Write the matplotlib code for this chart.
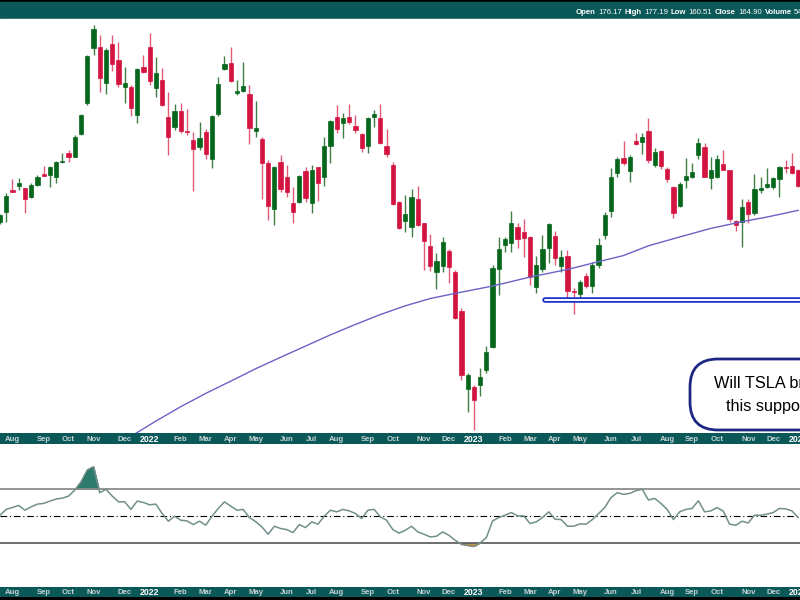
import numpy as np
import pandas as pd
import matplotlib
matplotlib.use('Agg')
import matplotlib.pyplot as plt
from matplotlib.patches import FancyBboxPatch, Rectangle
from matplotlib.transforms import IdentityTransform

plt.rcParams['font.family'] = ['Liberation Sans', 'DejaVu Sans']

# weekly bars, Jul 2021 - Jan 2024 (split adjusted)
weeks = pd.date_range('2021-07-19', periods=129, freq='W-MON')

opens = [209.4, 216.8, 233.9, 237.2, 235.6, 228.3, 238.0, 247.3, 246.4, 244.7,
         257.8, 266.0, 262.3, 284.1, 316.3, 382.7, 384.1, 339.0, 388.1, 367.1,
         334.3, 334.3, 303.4, 358.3, 384.1, 333.5, 342.6, 301.3, 291.0, 307.6,
         287.0, 278.2, 271.6, 286.0, 260.5, 304.5, 355.9, 363.3, 327.4, 329.7,
         326.3, 287.0, 279.2, 256.9, 219.0, 257.8, 244.7, 223.6, 224.4, 249.9,
         223.6, 253.4, 244.7, 272.5, 301.3, 295.1, 301.3, 292.1, 284.1, 272.5,
         301.3, 300.3, 272.5, 255.1, 224.4, 210.1, 205.8, 226.8, 208.6, 192.7,
         176.1, 179.8, 189.4, 176.1, 153.8, 117.4, 118.2, 119.0, 125.3, 135.8,
         177.9, 193.3, 194.6, 205.8, 202.2, 198.8, 167.1, 177.9, 191.3, 199.5,
         179.8, 186.1, 164.8, 163.1, 173.6, 167.7, 180.4, 200.2, 217.5, 248.1,
         261.4, 249.9, 277.3, 276.3, 287.0, 255.1, 267.8, 251.6, 236.4, 221.3,
         242.2, 244.7, 264.1, 271.6, 243.9, 244.7, 256.0, 250.7, 210.1, 209.4,
         224.4, 216.0, 233.9, 236.4, 236.4, 243.0, 253.4, 254.2, 250.7]
highs = [215.3, 231.5, 243.0, 243.9, 235.8, 239.7, 246.4, 254.2, 254.2, 258.7,
         266.0, 268.7, 283.1, 304.5, 373.6, 414.5, 400.4, 382.7, 400.4, 390.8,
         358.3, 336.7, 357.1, 373.6, 403.2, 371.0, 357.1, 328.6, 315.2, 316.3,
         309.8, 286.0, 296.1, 289.0, 303.4, 346.1, 372.3, 384.1, 342.6, 364.6,
         336.7, 318.5, 281.1, 259.6, 254.2, 264.1, 255.1, 236.4, 246.4, 253.4,
         255.1, 253.6, 281.1, 298.2, 314.1, 305.5, 315.2, 303.4, 285.0, 301.3,
         308.7, 315.2, 289.0, 257.8, 225.2, 229.9, 234.7, 237.2, 209.0, 200.8,
         188.0, 198.8, 190.7, 177.3, 155.4, 124.0, 119.0, 126.2, 136.2, 180.4,
         198.8, 198.8, 217.5, 208.6, 211.6, 199.2, 186.1, 200.2, 208.6, 202.9,
         190.0, 190.0, 166.6, 171.2, 175.5, 182.3, 198.1, 216.8, 252.5, 262.3,
         277.3, 264.1, 285.0, 285.0, 300.3, 270.6, 268.7, 253.4, 237.2, 240.5,
         261.4, 256.9, 280.2, 275.3, 262.3, 264.1, 268.7, 251.0, 210.8, 226.8,
         226.8, 247.3, 244.7, 252.5, 244.7, 254.2, 259.6, 266.0, 251.6]
lows = [207.9, 209.4, 232.3, 233.9, 216.0, 227.5, 237.2, 245.4, 236.4, 239.7,
        256.9, 257.8, 262.0, 283.1, 314.1, 373.6, 328.6, 326.3, 353.4, 334.3,
        316.3, 302.4, 295.1, 351.0, 336.7, 323.0, 313.0, 264.1, 288.0, 285.0,
        283.1, 233.1, 268.7, 260.5, 252.5, 302.4, 354.6, 340.2, 325.2, 328.6,
        274.4, 281.1, 226.8, 210.8, 207.2, 232.3, 228.3, 208.6, 223.6, 224.4,
        216.0, 225.2, 237.2, 256.9, 285.0, 280.2, 294.1, 285.0, 266.9, 266.0,
        291.0, 274.4, 262.3, 222.1, 204.4, 202.2, 198.8, 206.5, 177.3, 176.7,
        166.0, 176.1, 169.5, 149.8, 121.1, 108.4, 101.8, 114.5, 124.0, 135.5,
        162.6, 188.7, 188.7, 191.3, 185.5, 168.3, 163.7, 176.1, 181.6, 180.4,
        176.1, 160.9, 152.2, 158.7, 166.6, 163.7, 178.5, 197.4, 213.0, 244.7,
        255.1, 240.5, 273.4, 265.0, 256.9, 253.4, 251.6, 240.5, 212.3, 220.5,
        235.6, 243.9, 260.5, 244.5, 234.7, 243.9, 250.5, 209.4, 202.9, 192.0,
        208.6, 214.5, 231.5, 235.6, 234.7, 228.3, 248.1, 247.3, 236.4]
closes = [214.5, 229.1, 232.7, 239.7, 226.8, 238.0, 244.7, 245.6, 253.4, 257.8,
          258.7, 262.3, 281.1, 303.4, 372.3, 408.8, 344.9, 380.1, 362.1, 337.8,
          339.0, 310.9, 355.9, 352.2, 341.4, 351.0, 314.1, 281.1, 307.6, 287.0,
          286.0, 269.7, 280.2, 265.0, 302.4, 337.8, 362.1, 341.4, 329.7, 335.5,
          290.0, 290.0, 256.9, 221.3, 253.4, 234.7, 232.3, 216.8, 245.6, 227.5,
          250.7, 239.7, 272.5, 297.2, 289.0, 300.3, 296.1, 288.0, 270.6, 300.3,
          304.5, 275.3, 265.0, 222.9, 205.1, 215.3, 228.3, 207.2, 196.0, 179.8,
          182.9, 195.3, 179.1, 150.1, 123.2, 123.2, 113.0, 122.3, 133.4, 178.5,
          190.7, 197.4, 208.6, 197.4, 198.1, 173.0, 180.4, 190.7, 207.9, 184.8,
          185.5, 164.8, 164.3, 170.1, 167.7, 180.4, 193.3, 214.5, 244.7, 260.5,
          256.9, 262.3, 274.4, 281.1, 259.6, 266.9, 254.2, 243.0, 216.0, 238.9,
          245.6, 249.0, 275.3, 244.7, 250.7, 260.5, 250.7, 211.6, 207.2, 220.5,
          215.3, 234.7, 235.6, 238.9, 243.9, 253.4, 252.5, 248.1, 237.2]

# 200-day moving average, read at a few weeks
ma_weeks = [21, 25, 29, 33, 37, 41, 45, 49, 53, 57, 61, 65, 69, 74, 79, 85, 91, 96,
            100, 104, 109, 114, 119, 123, 128]
ma_vals = [99.6, 105.0, 110.4, 115.6, 120.6, 125.9, 131.0, 136.2, 141.6, 146.8,
           151.9, 156.6, 160.6, 164.2, 167.7, 173.0, 177.6, 182.5, 186.4, 192.8,
           198.8, 204.8, 209.6, 213.0, 218.0]

support_level = 159.8
support_start = 87.4

# weekly RSI(14)
rsi = [50.7, 55.0, 56.4, 57.9, 54.4, 56.9, 58.9, 59.4, 61.1, 62.6,
       63.3, 64.8, 69.3, 75.4, 84.1, 86.5, 67.3, 69.8, 64.8, 60.6,
       60.6, 55.0, 61.1, 60.1, 58.4, 58.9, 52.0, 46.3, 50.0, 47.0,
       46.5, 43.8, 46.3, 43.3, 50.0, 55.7, 60.6, 57.4, 54.4, 55.0,
       49.0, 46.0, 42.1, 36.7, 42.6, 40.9, 40.1, 37.9, 43.8, 41.6,
       45.8, 44.1, 50.0, 54.4, 53.2, 55.0, 53.9, 52.0, 48.3, 54.4,
       55.0, 49.5, 47.0, 40.1, 37.5, 39.6, 42.6, 38.4, 36.7, 34.7,
       35.2, 38.4, 35.9, 32.2, 29.3, 28.5, 27.8, 30.3, 34.2, 46.5,
       49.0, 50.7, 52.7, 50.2, 50.2, 44.6, 45.8, 49.0, 53.2, 47.8,
       47.5, 42.6, 42.6, 44.3, 44.1, 47.5, 52.0, 56.4, 63.8, 67.3,
       66.1, 66.8, 68.8, 69.8, 61.9, 63.1, 59.4, 55.0, 47.5, 53.2,
       55.0, 55.7, 61.4, 53.2, 53.9, 56.4, 53.7, 44.1, 43.3, 46.3,
       45.0, 50.7, 50.7, 51.5, 52.7, 55.7, 55.4, 53.9, 49.0]

header = [('Open', True), ('176.17', False), ('High', True), ('177.19', False),
          ('Low', True), ('160.51', False), ('Close', True), ('164.90', False),
          ('Volume', True), ('544', False)]

teal = '#0b5858'
green = '#06661c'
red = '#d41440'

o = np.array(opens); h = np.array(highs); l = np.array(lows); c = np.array(closes)
idx = np.arange(len(weeks))
up = c >= o

fig = plt.figure(figsize=(8, 6), dpi=100, facecolor='black')
fig.patches.append(Rectangle((0, 1 - 18.5 / 600), 1, 16.5 / 600, transform=fig.transFigure,
                             color=teal, zorder=0))
fig.patches.append(Rectangle((0, 1 - 20 / 600), 1, 1.5 / 600, transform=fig.transFigure,
                             color='white', zorder=0))

ax = fig.add_axes([0, 1 - 433 / 600, 1, 414 / 600])
bar1 = fig.add_axes([0, 1 - 444 / 600, 1, 11 / 600])
ax2 = fig.add_axes([0, 1 - 587 / 600, 1, 143 / 600])
bar2 = fig.add_axes([0, 1 - 597 / 600, 1, 10 / 600])

xlim = (0, 128.3)

# price panel
ax.set_yscale('log')
ax.set_ylim(100.76, 423.2)
ax.set_xlim(*xlim)
wick_col = np.where(up, '#3f7f45', '#e25a78')
body_col = np.where(up, green, red)
ax.vlines(idx, l, h, colors=wick_col, lw=1.0, zorder=2)
ax.bar(idx, np.abs(c - o), bottom=np.minimum(o, c), width=0.68,
       color=body_col, edgecolor=body_col, lw=0.5, zorder=3)
ax.plot(ma_weeks, ma_vals, color='#6a63c6', lw=1.0, zorder=4)
ax.plot([support_start, 140], [support_level, support_level], color='#1c33c8', lw=4.0,
        solid_capstyle='round', zorder=5)
ax.plot([support_start, 140], [support_level, support_level], color='white', lw=1.4,
        solid_capstyle='round', zorder=6)
for s in ['left', 'right', 'bottom']:
    ax.spines[s].set_visible(False)
ax.spines['top'].set_color('#a9bdd3')
ax.spines['top'].set_linewidth(1.0)
ax.set_xticks([]); ax.set_yticks([])
ax.yaxis.set_minor_locator(matplotlib.ticker.NullLocator())

# rsi panel
r = np.array(rsi)
ax2.set_facecolor('white')
ax2.set_xlim(*xlim)
ax2.set_ylim(-2.2, 103.2)
ax2.axhline(70, color='#8c8c8c', lw=1.3)
ax2.axhline(30, color='#555555', lw=1.2)
ax2.axhline(50, color='black', lw=0.8, ls=(0, (6, 2.5, 1, 2.5)))
ax2.fill_between(idx, r, 70, where=r >= 70, interpolate=True, color='#2d7b6c',
                 edgecolor='#1d5f52', lw=0.6)
ax2.fill_between(idx, r, 30, where=r <= 30, interpolate=True, color='#d99a3a',
                 edgecolor='#b07a20', lw=0.6)
ax2.plot(idx, r, color='#728f8c', lw=1.1)
ax2.set_xticks([]); ax2.set_yticks([])
for s in ax2.spines.values():
    s.set_visible(False)

# month bars
for b in (bar1, bar2):
    b.set_facecolor(teal)
    b.set_xlim(*xlim)
    b.set_ylim(0, 1)
    b.set_xticks([]); b.set_yticks([])
    for s in b.spines.values():
        s.set_visible(False)
    for i in range(1, len(weeks)):
        if weeks[i].month != weeks[i - 1].month:
            if weeks[i].month == 1:
                b.text(i, 0.45, str(weeks[i].year), ha='center', va='center',
                       fontsize=6.3, fontweight='bold', color='white', clip_on=False)
            else:
                b.text(i, 0.45, weeks[i].strftime('%b'), ha='center', va='center',
                       fontsize=5.6, fontweight='bold', color='#c5d3d3', clip_on=False)

# header quote line
rend = fig.canvas.get_renderer()
xpos = 576
for s, bold in header:
    t = fig.text(xpos / 800, 1 - 14.5 / 600, s, fontsize=5.6, color='white',
                 fontweight='bold' if bold else 'normal', va='baseline', ha='left')
    xpos += t.get_window_extent(rend).width + 2.5

# callout box
box = FancyBboxPatch((690, 600 - 430), 170, 71, boxstyle='round,pad=0,rounding_size=28',
                     transform=IdentityTransform(), fc='white', ec='#1c2784', lw=2.0, zorder=10)
fig.add_artist(box)
fig.text(772 / 800, 1 - 388.3 / 600, 'Will TSLA break', ha='center', va='baseline',
         fontsize=11.7, color='black', zorder=11)
fig.text(772 / 800, 1 - 411 / 600, 'this support?', ha='center', va='baseline',
         fontsize=11.7, color='black', zorder=11)

fig.savefig('out.png', dpi=100, facecolor=fig.get_facecolor())
